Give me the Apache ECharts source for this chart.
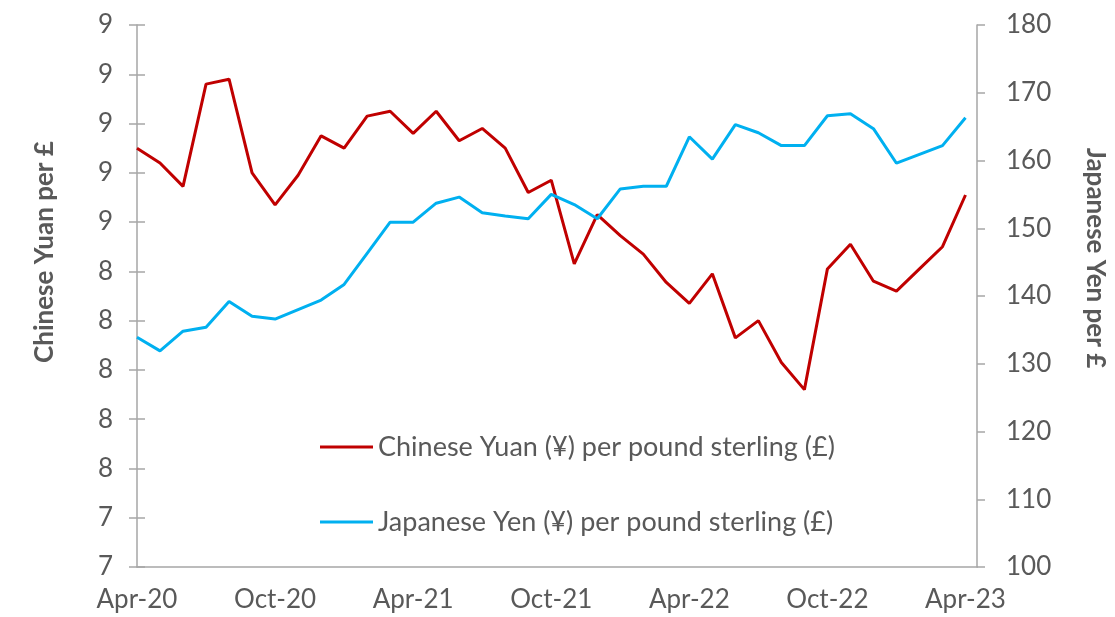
<!DOCTYPE html>
<html>
<head>
<meta charset="utf-8">
<script src="https://cdn.jsdelivr.net/npm/echarts@6/dist/echarts.min.js"></script>
<style>
  html, body { margin: 0; padding: 0; background: #fff; }
  #main { width: 1115px; height: 617px; }
</style>
</head>
<body>
<div id="main"></div>
<script>
var months = ['Apr-20','May-20','Jun-20','Jul-20','Aug-20','Sep-20','Oct-20','Nov-20','Dec-20',
  'Jan-21','Feb-21','Mar-21','Apr-21','May-21','Jun-21','Jul-21','Aug-21','Sep-21','Oct-21','Nov-21','Dec-21',
  'Jan-22','Feb-22','Mar-22','Apr-22','May-22','Jun-22','Jul-22','Aug-22','Sep-22','Oct-22','Nov-22','Dec-22',
  'Jan-23','Feb-23','Mar-23','Apr-23'];

// CNY per GBP
var yuan = [8.90, 8.84, 8.745, 9.16, 9.18, 8.80, 8.67, 8.79, 8.95,
  8.90, 9.03, 9.05, 8.96, 9.05, 8.93, 8.98, 8.90, 8.72, 8.77, 8.43, 8.63,
  8.545, 8.47, 8.355, 8.27, 8.39, 8.13, 8.20, 8.03, 7.92, 8.41, 8.51, 8.36,
  8.32, 8.41, 8.50, 8.71];

// JPY per GBP
var yen = [133.9, 131.9, 134.8, 135.4, 139.2, 137.0, 136.6, 138.0, 139.4,
  141.7, 146.3, 150.9, 150.9, 153.7, 154.6, 152.3, 151.8, 151.4, 155.0, 153.5, 151.4,
  155.8, 156.2, 156.2, 163.5, 160.2, 165.3, 164.1, 162.2, 162.2, 166.6, 166.9, 164.7,
  159.6, 160.9, 162.2, 166.3];

var yuanName = 'Chinese Yuan (¥) per pound sterling (£)';
var yenName = 'Japanese Yen (¥) per pound sterling (£)';

function pairs(arr) {
  return arr.map(function (v, i) { return [i, v]; });
}

var grey = '#595959';
var axisGrey = '#A6A6A6';
var font = 'Lato, "Open Sans", sans-serif';
var fs = 26;

var myChart = echarts.init(document.getElementById('main'));

var option = {
  animation: false,
  textStyle: { fontFamily: font },
  grid: { left: 137, right: 138, top: 25, bottom: 50, containLabel: false },
  legend: {
    orient: 'vertical',
    left: 315,
    top: 427,
    icon: 'rect',
    itemWidth: 53,
    itemHeight: 3,
    itemGap: 45,
    textStyle: { color: grey, fontSize: 27, fontFamily: font, lineHeight: 30 },
    data: [yuanName, yenName]
  },
  xAxis: {
    type: 'value',
    min: 0,
    max: 36.5,
    interval: 6,
    splitLine: { show: false },
    axisLine: { lineStyle: { color: axisGrey, width: 1.5 } },
    axisTick: { show: false },
    axisLabel: {
      color: grey,
      fontSize: fs,
      margin: 20,
      showMaxLabel: false,
      formatter: function (v) {
        return (v % 6 === 0 && months[v]) ? months[v] : '';
      }
    }
  },
  yAxis: [
    {
      type: 'value',
      min: 7.2,
      max: 9.4,
      interval: 0.2,
      position: 'left',
      splitLine: { show: false },
      axisLine: { show: true, lineStyle: { color: axisGrey, width: 1.5 } },
      axisTick: { show: true, length: 8, lineStyle: { color: axisGrey, width: 1.5 } },
      axisLabel: {
        color: grey,
        fontSize: fs,
        margin: 24,
        formatter: function (v) { return Math.round(v).toFixed(0); }
      }
    },
    {
      type: 'value',
      min: 100,
      max: 180,
      interval: 10,
      position: 'right',
      splitLine: { show: false },
      axisLine: { show: true, lineStyle: { color: axisGrey, width: 1.5 } },
      axisTick: { show: true, length: 8, lineStyle: { color: axisGrey, width: 1.5 } },
      axisLabel: { color: grey, fontSize: fs, margin: 29 }
    },
    {
      // inner half of the cross ticks on the left axis
      type: 'value',
      min: 7.2,
      max: 9.4,
      interval: 0.2,
      position: 'left',
      splitLine: { show: false },
      axisLine: { show: false },
      axisLabel: { show: false },
      axisTick: { show: true, inside: true, length: 8, lineStyle: { color: axisGrey, width: 1.5 } }
    }
  ],
  graphic: [
    {
      type: 'text',
      x: 45,
      y: 252,
      rotation: Math.PI / 2,
      style: {
        text: 'Chinese Yuan per £',
        fill: grey,
        font: 'bold ' + fs + 'px ' + font,
        align: 'center',
        verticalAlign: 'middle'
      }
    },
    {
      type: 'text',
      x: 1095,
      y: 258,
      rotation: -Math.PI / 2,
      style: {
        text: 'Japanese Yen per £',
        fill: grey,
        font: 'bold ' + fs + 'px ' + font,
        align: 'center',
        verticalAlign: 'middle'
      }
    }
  ],
  series: [
    {
      name: yuanName,
      type: 'line',
      yAxisIndex: 0,
      symbol: 'none',
      lineStyle: { color: '#C00000', width: 3 },
      itemStyle: { color: '#C00000' },
      data: pairs(yuan)
    },
    {
      name: yenName,
      type: 'line',
      yAxisIndex: 1,
      symbol: 'none',
      lineStyle: { color: '#00B0F0', width: 3 },
      itemStyle: { color: '#00B0F0' },
      data: pairs(yen)
    }
  ]
};

myChart.setOption(option);
</script>
</body>
</html>
